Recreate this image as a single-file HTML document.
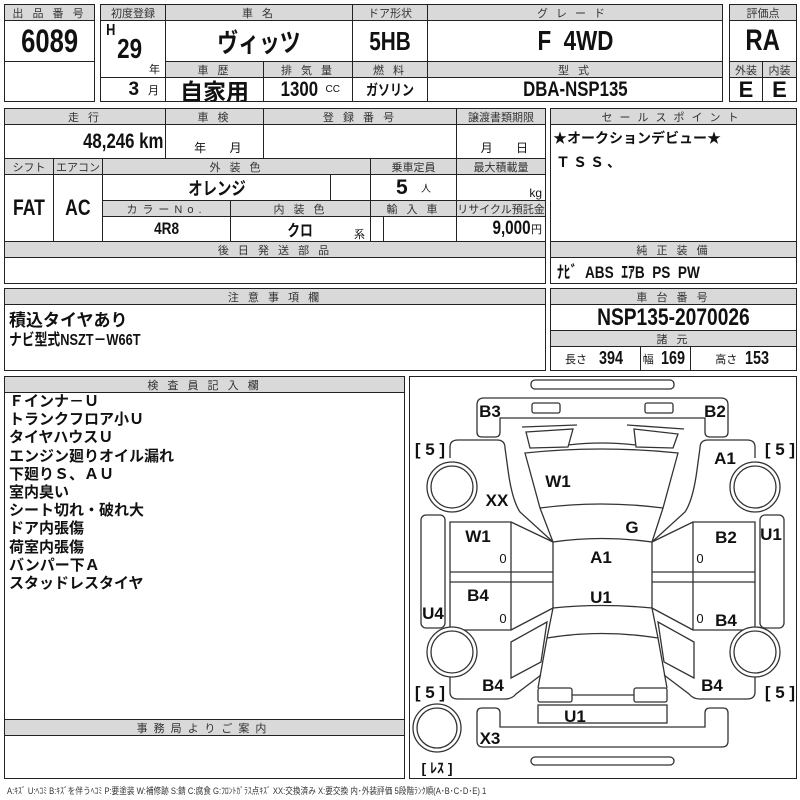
<!DOCTYPE html>
<html><head><meta charset="utf-8"><style>
body{margin:0;width:800px;height:800px;background:#fff;position:relative;overflow:hidden;font-family:"Liberation Sans","Noto Sans CJK JP",sans-serif;color:#111}
.c{position:absolute;box-sizing:border-box;border:1px solid #222;display:flex;align-items:center;justify-content:center;overflow:hidden;white-space:nowrap}
.g{background:#d9d9d9;font-size:11px;color:#333;letter-spacing:3px}
.v{font-weight:bold}
.n{display:inline-block;transform:scaleX(.8)}
.t{position:absolute;white-space:nowrap}
</style></head><body>
<!-- block1 -->
<div class="c g" style="left:4px;top:4px;width:91px;height:17px">出 品 番 号</div>
<div class="c v" style="left:4px;top:20px;width:91px;height:42px;font-size:32px"><span class="n">6089</span></div>
<div class="c" style="left:4px;top:61px;width:91px;height:41px"></div>
<div class="c g" style="left:100px;top:4px;width:66px;height:17px;letter-spacing:0">初度登録</div>
<div class="c" style="left:100px;top:20px;width:66px;height:58px"></div>
<div class="t v" style="left:105px;top:22px;font-size:16px"><span class="n">H</span></div>
<div class="t v" style="left:114px;top:33px;font-size:28px"><span class="n">29</span></div>
<div class="t" style="left:149px;top:61px;font-size:11px">年</div>
<div class="c" style="left:100px;top:77px;width:66px;height:25px;justify-content:flex-end;padding-right:6px"><b style="font-size:19px">3</b>&nbsp;&nbsp;<span style="font-size:11px">月</span></div>
<div class="c g" style="left:165px;top:4px;width:188px;height:17px">車 名</div>
<div class="c v" style="left:165px;top:20px;width:188px;height:42px;font-size:26px"><span class="n">ヴィッツ</span></div>
<div class="c g" style="left:352px;top:4px;width:76px;height:17px;letter-spacing:0">ドア形状</div>
<div class="c v" style="left:352px;top:20px;width:76px;height:42px;font-size:26px"><span class="n">5HB</span></div>
<div class="c g" style="left:427px;top:4px;width:296px;height:17px;letter-spacing:8px">グレード</div>
<div class="c v" style="left:427px;top:20px;width:296px;height:42px;font-size:28px"><span class="n">F&nbsp;&nbsp;4WD</span></div>
<div class="c g" style="left:165px;top:61px;width:99px;height:17px">車 歴</div>
<div class="c v" style="left:165px;top:77px;width:99px;height:25px;font-size:23px">自家用</div>
<div class="c g" style="left:263px;top:61px;width:90px;height:17px">排 気 量</div>
<div class="c" style="left:263px;top:77px;width:90px;height:25px"><b style="font-size:21px"><span class="n">1300</span></b><span style="font-size:10px">&nbsp;CC</span></div>
<div class="c g" style="left:352px;top:61px;width:76px;height:17px">燃 料</div>
<div class="c v" style="left:352px;top:77px;width:76px;height:25px;font-size:15px"><span class="n">ガソリン</span></div>
<div class="c g" style="left:427px;top:61px;width:296px;height:17px">型 式</div>
<div class="c v" style="left:427px;top:77px;width:296px;height:25px;font-size:21px"><span class="n">DBA-NSP135</span></div>
<div class="c g" style="left:729px;top:4px;width:68px;height:17px;letter-spacing:0">評価点</div>
<div class="c v" style="left:729px;top:20px;width:68px;height:42px;font-size:30px"><span class="n">RA</span></div>
<div class="c g" style="left:729px;top:61px;width:34px;height:17px;letter-spacing:0">外装</div>
<div class="c g" style="left:762px;top:61px;width:35px;height:17px;letter-spacing:0">内装</div>
<div class="c v" style="left:729px;top:77px;width:34px;height:25px;font-size:22px">E</div>
<div class="c v" style="left:762px;top:77px;width:35px;height:25px;font-size:22px">E</div>
<!-- block2 -->
<div class="c g" style="left:4px;top:108px;width:162px;height:17px">走 行</div>
<div class="c g" style="left:165px;top:108px;width:99px;height:17px">車 検</div>
<div class="c g" style="left:263px;top:108px;width:194px;height:17px">登 録 番 号</div>
<div class="c g" style="left:456px;top:108px;width:90px;height:17px;letter-spacing:0">譲渡書類期限</div>
<div class="c v" style="left:4px;top:124px;width:162px;height:35px;font-size:21px;justify-content:flex-end;padding-right:2px"><span class="n" style="transform-origin:right">48,246 km</span></div>
<div class="c" style="left:165px;top:124px;width:99px;height:35px;font-size:12px;align-items:flex-end;padding-bottom:2px">&nbsp;&nbsp;年&nbsp;&nbsp;&nbsp;&nbsp;&nbsp;&nbsp;&nbsp;月</div>
<div class="c" style="left:263px;top:124px;width:194px;height:35px"></div>
<div class="c" style="left:456px;top:124px;width:90px;height:35px;font-size:12px;align-items:flex-end;padding-bottom:2px">&nbsp;&nbsp;月&nbsp;&nbsp;&nbsp;&nbsp;&nbsp;&nbsp;&nbsp;日</div>
<div class="c g" style="left:4px;top:158px;width:50px;height:17px;letter-spacing:0">シフト</div>
<div class="c g" style="left:53px;top:158px;width:50px;height:17px;letter-spacing:0">エアコン</div>
<div class="c g" style="left:102px;top:158px;width:269px;height:17px">外 装 色</div>
<div class="c g" style="left:370px;top:158px;width:87px;height:17px;letter-spacing:0">乗車定員</div>
<div class="c g" style="left:456px;top:158px;width:90px;height:17px;letter-spacing:0">最大積載量</div>
<div class="c v" style="left:4px;top:174px;width:50px;height:68px;font-size:22px"><span class="n">FAT</span></div>
<div class="c v" style="left:53px;top:174px;width:50px;height:68px;font-size:22px"><span class="n">AC</span></div>
<div class="c v" style="left:102px;top:174px;width:229px;height:27px;font-size:18px"><span class="n">オレンジ</span></div>
<div class="c" style="left:330px;top:174px;width:41px;height:27px"></div>
<div class="c" style="left:370px;top:174px;width:87px;height:27px"><b style="font-size:21px">5</b>&nbsp;&nbsp;&nbsp;<span style="font-size:10px">人</span></div>
<div class="c" style="left:456px;top:174px;width:90px;height:27px;font-size:12px;justify-content:flex-end;padding-right:3px;align-items:flex-end">kg</div>
<div class="c g" style="left:102px;top:200px;width:129px;height:17px;letter-spacing:5px">カラーNo.</div>
<div class="c g" style="left:230px;top:200px;width:141px;height:17px">内 装 色</div>
<div class="c g" style="left:370px;top:200px;width:87px;height:17px">輸 入 車</div>
<div class="c g" style="left:456px;top:200px;width:90px;height:17px;letter-spacing:0">リサイクル預託金</div>
<div class="c v" style="left:102px;top:216px;width:129px;height:26px;font-size:17px"><span class="n">4R8</span></div>
<div class="c v" style="left:230px;top:216px;width:141px;height:26px;font-size:16px"><span class="n">クロ</span></div>
<div class="t" style="left:354px;top:226px;font-size:11px">系</div>
<div class="c" style="left:370px;top:216px;width:14px;height:26px"></div>
<div class="c" style="left:383px;top:216px;width:74px;height:26px"></div>
<div class="c" style="left:456px;top:216px;width:90px;height:26px;justify-content:flex-end;padding-right:3px"><b style="font-size:19px"><span class="n" style="transform-origin:right">9,000</span></b><span style="font-size:11px">円</span></div>
<div class="c g" style="left:4px;top:241px;width:542px;height:17px">後 日 発 送 部 品</div>
<div class="c" style="left:4px;top:257px;width:542px;height:27px"></div>
<div class="c g" style="left:550px;top:108px;width:247px;height:17px;letter-spacing:7px">セールスポイント</div>
<div class="c" style="left:550px;top:124px;width:247px;height:118px"></div>
<div class="t v" style="left:553px;top:128px;font-size:14px">★オークションデビュー★</div>
<div class="t v" style="left:556px;top:152px;font-size:14px;letter-spacing:3px">ＴＳＳ、</div>
<div class="c g" style="left:550px;top:241px;width:247px;height:17px">純 正 装 備</div>
<div class="c v" style="left:550px;top:257px;width:247px;height:27px;font-size:17px;justify-content:flex-start;padding-left:6px"><span class="n" style="transform-origin:left">ﾅﾋﾞ&nbsp; ABS&nbsp; ｴｱB&nbsp; PS&nbsp; PW</span></div>
<!-- block3 -->
<div class="c g" style="left:4px;top:288px;width:542px;height:17px">注 意 事 項 欄</div>
<div class="c" style="left:4px;top:304px;width:542px;height:67px"></div>
<div class="t v" style="left:9px;top:306px;font-size:17px">積込タイヤあり</div>
<div class="t v" style="left:9px;top:326px;font-size:16px"><span class="n" style="transform-origin:left">ナビ型式NSZT－W66T</span></div>
<div class="c g" style="left:550px;top:288px;width:247px;height:17px">車 台 番 号</div>
<div class="c v" style="left:550px;top:304px;width:247px;height:27px;font-size:24px"><span class="n">NSP135-2070026</span></div>
<div class="c g" style="left:550px;top:330px;width:247px;height:17px">諸 元</div>
<div class="c" style="left:550px;top:346px;width:91px;height:25px"><span style="font-size:11px">長さ</span>&nbsp;&nbsp;<b style="font-size:18px"><span class="n">394</span></b></div>
<div class="c" style="left:640px;top:346px;width:51px;height:25px"><span style="font-size:11px">幅</span>&nbsp;<b style="font-size:18px"><span class="n">169</span></b></div>
<div class="c" style="left:690px;top:346px;width:107px;height:25px"><span style="font-size:11px">高さ</span>&nbsp;<b style="font-size:18px"><span class="n">153</span></b></div>
<!-- block4 -->
<div class="c g" style="left:4px;top:376px;width:401px;height:17px">検 査 員 記 入 欄</div>
<div class="c" style="left:4px;top:392px;width:401px;height:328px"></div>
<div class="t v" style="left:9px;top:393px;font-size:15px;line-height:18.2px">Ｆインナ－Ｕ<br>トランクフロア小Ｕ<br>タイヤハウスＵ<br>エンジン廻りオイル漏れ<br>下廻りＳ、ＡＵ<br>室内臭い<br>シート切れ・破れ大<br>ドア内張傷<br>荷室内張傷<br>バンパー下Ａ<br>スタッドレスタイヤ</div>
<div class="c g" style="left:4px;top:719px;width:401px;height:17px;letter-spacing:6px">事務局よりご案内</div>
<div class="c" style="left:4px;top:735px;width:401px;height:44px"></div>
<div class="c" style="left:409px;top:376px;width:388px;height:403px"></div>
<div class="t" style="left:7px;top:784px;font-size:9px;color:#333"><span class="n" style="transform-origin:left;transform:scaleX(.85)">A:ｷｽﾞ U:ﾍｺﾐ B:ｷｽﾞを伴うﾍｺﾐ P:要塗装 W:補修跡 S:錆 C:腐食 G:ﾌﾛﾝﾄｶﾞﾗｽ点ｷｽﾞ XX:交換済み X:要交換 内･外装評価 5段階ﾗﾝｸ順(A･B･C･D･E) 1</span></div>
<svg width="800" height="800" style="position:absolute;left:0;top:0" fill="none" stroke="#333" stroke-width="1.3">
<rect x="531" y="380" width="143" height="9" rx="4"/>
<path d="M477 405Q477 398 484 398L721 398Q728 398 728 405L728 432Q728 437 723 437L710 437Q705 437 705 432L705 418L500 418L500 432Q500 437 495 437L482 437Q477 437 477 432Z"/>
<rect x="532" y="403" width="28" height="10" rx="2"/><rect x="645" y="403" width="28" height="10" rx="2"/>
<path d="M522 427L577 425M627 425L684 429"/>
<path d="M526 432L573 429L568 447L530 448Z M634 429L678 434L673 448L636 447Z M568 445Q601 441 636 445"/>
<path d="M525 453Q601 445 678 453L663 508Q601 500 540 508Z"/>
<path d="M540 508L553 542M663 508L652 542"/>
<path d="M553 542Q601 535 652 542L652 608Q601 603 553 608Z"/>
<path d="M450 458L450 447Q450 440 458 440L497 440Q505 440 505 448L508 470Q512 500 520 512L553 542"/>
<path d="M755 458L755 447Q755 440 747 440L708 440Q700 440 700 448L697 470Q693 500 685 512L652 542"/>
<path d="M450 522L511 522L511 630L450 630Z M450 572L553 572M450 582L553 582 M511 522L553 542M511 630L553 608"/>
<path d="M755 522L693 522L693 630L755 630Z M755 572L652 572M755 582L652 582 M693 522L652 542M693 630L652 608"/>
<rect x="421" y="515" width="24" height="113" rx="5"/><rect x="760" y="515" width="24" height="113" rx="5"/>
<path d="M553 608L547 638L538 688M652 608L658 638L667 688M547 638Q601 629 658 638"/>
<path d="M511 642L547 622L541 662L511 678Z M694 642L658 622L664 662L694 678Z"/>
<path d="M450 675L450 692Q450 699 458 699L505 699Q512 699 516 694L541 675"/>
<path d="M755 675L755 692Q755 699 747 699L700 699Q693 699 689 694L664 675"/>
<rect x="538" y="688" width="34" height="14" rx="2"/><rect x="634" y="688" width="33" height="14" rx="2"/>
<path d="M572 695L634 695"/>
<rect x="538" y="705" width="129" height="18"/>
<path d="M477 713Q477 708 482 708L495 708Q500 708 500 713L500 727L705 727L705 713Q705 708 710 708L723 708Q728 708 728 713L728 741Q728 747 722 747L483 747Q477 747 477 741Z"/>
<rect x="531" y="757" width="143" height="8" rx="4"/>
<g fill="#fff"><circle cx="452" cy="487" r="25"/><circle cx="452" cy="652" r="25"/><circle cx="755" cy="487" r="25"/><circle cx="755" cy="652" r="25"/><circle cx="437" cy="728" r="24"/></g>
<circle cx="452" cy="487" r="21"/><circle cx="452" cy="652" r="21"/><circle cx="755" cy="487" r="21"/><circle cx="755" cy="652" r="21"/><circle cx="437" cy="728" r="20"/>
<g fill="#111" stroke="none" font-family="Liberation Sans" font-weight="bold" font-size="17" text-anchor="middle">
<text x="490" y="417">B3</text><text x="715" y="417">B2</text>
<text x="725" y="464">A1</text><text x="558" y="487">W1</text><text x="497" y="506">XX</text>
<text x="632" y="533">G</text><text x="478" y="542">W1</text><text x="601" y="563">A1</text>
<text x="726" y="543">B2</text><text x="771" y="540">U1</text>
<text x="478" y="601">B4</text><text x="601" y="603">U1</text><text x="726" y="626">B4</text><text x="433" y="619">U4</text>
<text x="493" y="691">B4</text><text x="712" y="691">B4</text><text x="575" y="722">U1</text><text x="490" y="744">X3</text>
<text x="430" y="455">[ 5 ]</text><text x="780" y="455">[ 5 ]</text><text x="430" y="698">[ 5 ]</text><text x="780" y="698">[ 5 ]</text>
<g font-weight="normal" font-size="13"><text x="503" y="563">0</text><text x="700" y="563">0</text><text x="503" y="623">0</text><text x="700" y="623">0</text></g>
<text x="437" y="773" font-size="14" font-family="Liberation Sans,Noto Sans CJK JP">[ ﾚｽ ]</text>
</g>
</svg>
</body></html>
